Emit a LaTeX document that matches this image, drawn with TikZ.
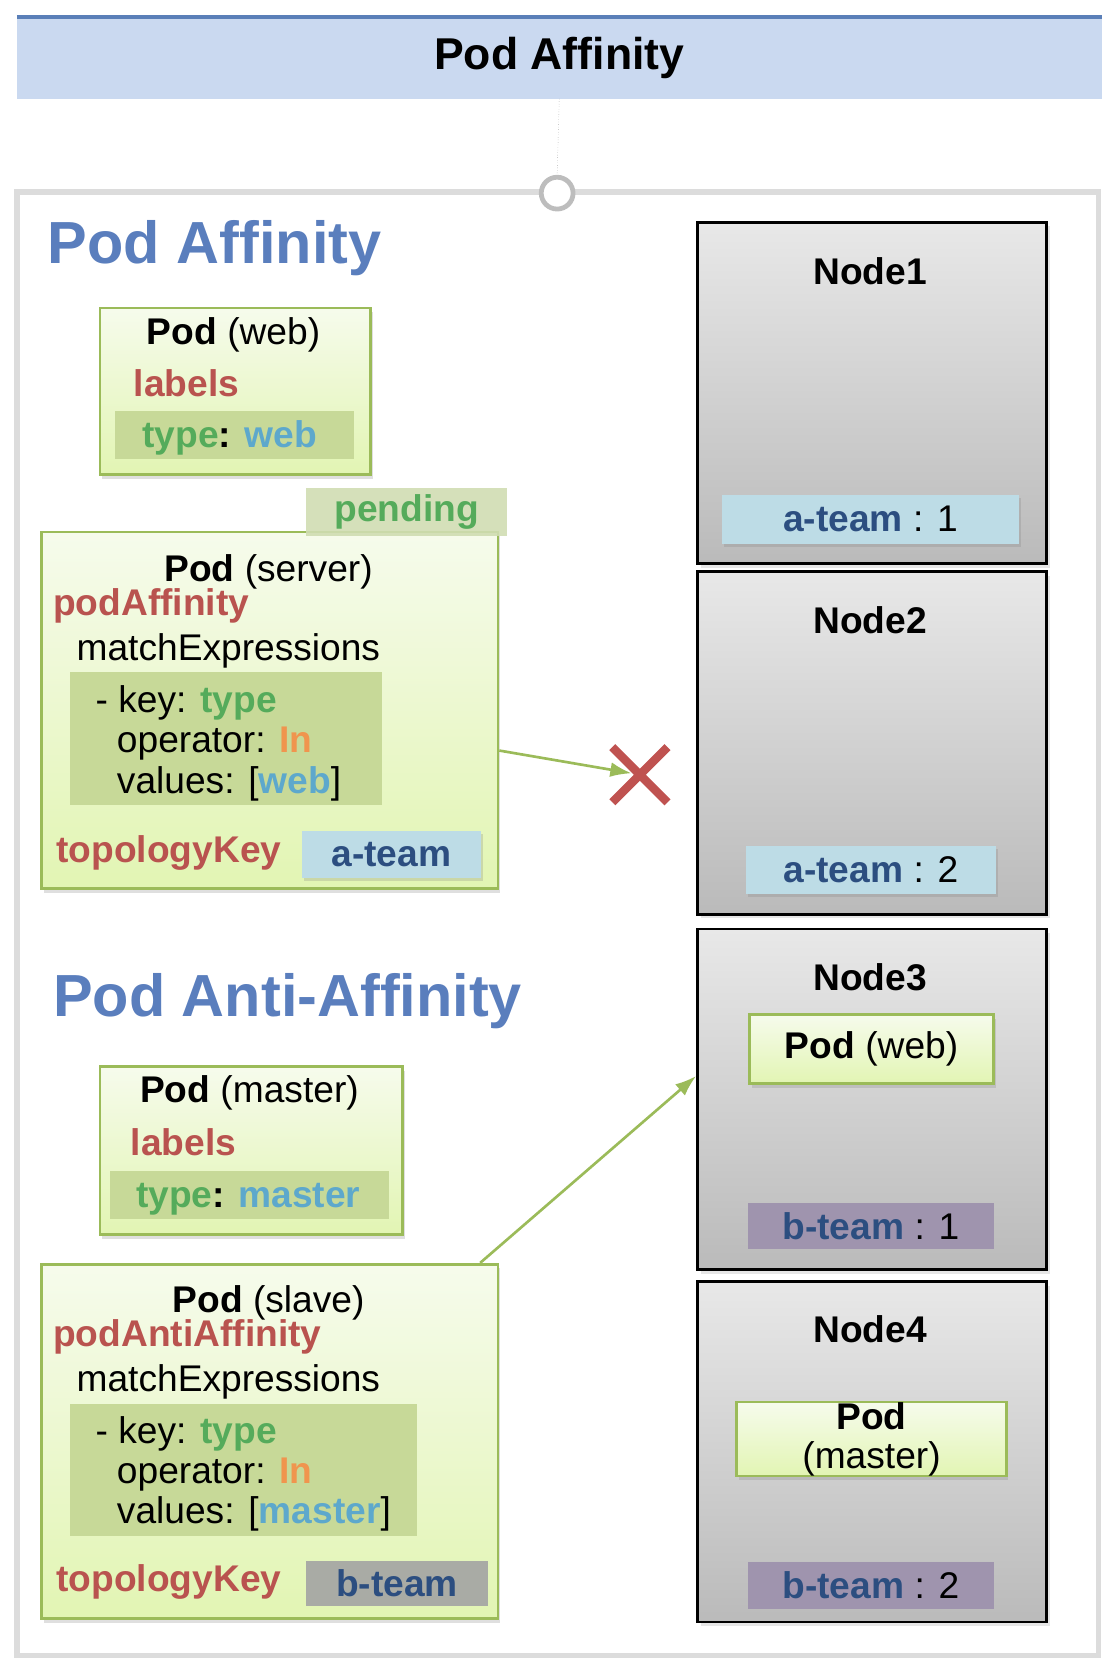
\documentclass[tikz,border=0pt]{standalone}
\usepackage{fontspec}
\setmainfont{Liberation Sans}
\usetikzlibrary{arrows.meta,calc,shadows,shapes.misc}
\definecolor{podgreen}{HTML}{9BBB59}
\definecolor{podtop}{HTML}{F6FBEC}
\definecolor{podbot}{HTML}{E2F5B3}
\definecolor{bandgreen}{HTML}{C7D998}
\definecolor{kwred}{HTML}{B9534F}
\definecolor{keygreen}{HTML}{55AB5B}
\definecolor{valblue}{HTML}{5DA8CC}
\definecolor{oporange}{HTML}{F0954E}
\definecolor{headblue}{HTML}{5A7EBD}
\definecolor{teamblue}{HTML}{2C4E80}
\definecolor{tagblue}{HTML}{BDDCE6}
\definecolor{tagpurple}{HTML}{9F94AE}
\definecolor{taggray}{HTML}{A9ABA5}
\definecolor{tagpend}{HTML}{D0DDB2}
\definecolor{barfill}{HTML}{CAD9F0}
\definecolor{barline}{HTML}{5A7FB8}
\definecolor{crossred}{HTML}{BF5250}
\definecolor{framegray}{HTML}{DCDCDC}
\definecolor{hubgray}{HTML}{BDBDBD}
\def\redkw#1{\textcolor{kwred}{\bfseries #1}}
\def\grnkw#1{\textcolor{keygreen}{\bfseries #1}}
\def\bluval#1{\textcolor{valblue}{\bfseries #1}}
\def\orgop#1{\textcolor{oporange}{\bfseries #1}}
\def\teamtxt#1{\textcolor{teamblue}{\bfseries #1}}
\tikzset{
  podtext/.style={inner sep=0pt, font=\fontsize{35}{38}\selectfont},
  heading/.style={inner sep=0pt, text=headblue, font=\fontsize{56}{60}\selectfont\bfseries},
  podbox/.style={draw=podgreen, line width=2.5pt, top color=podtop, bottom color=podbot,
    anchor=north west, drop shadow={opacity=0.25, shadow xshift=2pt, shadow yshift=-4pt}},
  nodebox/.style={draw=black, line width=2.8pt, top color=black!9, bottom color=black!27,
    anchor=north west, drop shadow={opacity=0.2, shadow xshift=3pt, shadow yshift=-4pt}},
  band/.style={fill=bandgreen, anchor=north west, inner sep=0pt},
  tagbox/.style={anchor=north west, inner sep=0pt, font=\fontsize{35}{38}\selectfont},
  link/.style={draw=podgreen, line width=2.5pt, -{Latex[length=20pt, width=14pt]}}
}

\begin{document}
\begin{tikzpicture}[x=1pt, y=-1pt]
  %%%%% START %%%%%
  \useasboundingbox (0,0) rectangle (1050,1568);

  % title bar
  \node[fill=barfill, minimum width=1022pt, minimum height=77pt, inner sep=0pt,
    font=\fontsize{42}{46}\selectfont\bfseries] (title) at (527,54.5) {Pod Affinity};
  \draw[line width=3.5pt, barline] (title.north west) -- (title.north east);

  % frame
  \draw[line width=5pt, framegray] (16,181) rectangle (1035,1560);
  \node[circle, draw=hubgray, line width=4.5pt, fill=white, minimum size=30pt, inner sep=0pt] (hub) at (525,182) {};
  \draw[dotted, black!50] (title.south) -- (hub.north);

  \node[heading, anchor=base west] (affhead) at (45,248) {Pod Affinity};
  \node[heading, anchor=base west] (antihead) at (50,958) {Pod Anti-Affinity};

  % pod web
  \node[podbox, minimum width=255pt, minimum height=157pt] (webpod) at (93,289) {};
  \node[podtext, anchor=base] (webname) at (220,325) {\textbf{Pod} (web)};
  \node[podtext, anchor=base west] (weblabels) at (126,374) {\redkw{labels}};
  \node[band, minimum width=225pt, minimum height=45pt] (webband) at (108,387) {};
  \node[podtext, anchor=base west] (webtype) at (134,422) {\grnkw{type}\textbf{:} \bluval{web}};

  % pod server
  \node[podbox, minimum width=430pt, minimum height=336pt] (server) at (38,500) {};
  \node[tagbox, fill=tagpend, fill opacity=0.9, text opacity=1, minimum width=190pt, minimum height=45pt] (pending) at (288,460) {\grnkw{pending}};
  \node[podtext, anchor=base] (srvname) at (253,548) {\textbf{Pod} (server)};
  \node[podtext, anchor=base west] (srvaff) at (50,580) {\redkw{podAffinity}};
  \node[podtext, anchor=base west] (srvmatch) at (72,622) {matchExpressions};
  \node[band, minimum width=294pt, minimum height=125pt] (srvband) at (66,633) {};
  \node[podtext, anchor=base west] (srvkey) at (90,671) {- key: \grnkw{type}};
  \node[podtext, anchor=base west] (srvop) at (110,709) {operator: \orgop{In}};
  \node[podtext, anchor=base west] (srvval) at (110,748) {values: [\bluval{web}]};
  \node[podtext, anchor=base west] (srvtopo) at (53,813) {\redkw{topologyKey}};
  \node[tagbox, fill=tagblue, minimum width=169pt, minimum height=44pt,
    drop shadow={opacity=0.25, shadow xshift=2pt, shadow yshift=-3pt}] (srvteam) at (284,783) {\teamtxt{a-team}};

  % pod master
  \node[podbox, minimum width=285pt, minimum height=158pt] (master) at (93,1004) {};
  \node[podtext, anchor=base] (mstname) at (235,1039) {\textbf{Pod} (master)};
  \node[podtext, anchor=base west] (mstlabels) at (123,1089) {\redkw{labels}};
  \node[band, minimum width=263pt, minimum height=45pt] (mstband) at (103,1103) {};
  \node[podtext, anchor=base west] (msttype) at (128,1138) {\grnkw{type}\textbf{:} \bluval{master}};

  % pod slave
  \node[podbox, minimum width=430pt, minimum height=334pt] (slave) at (38,1190) {};
  \node[podtext, anchor=base] (slvname) at (253,1237) {\textbf{Pod} (slave)};
  \node[podtext, anchor=base west] (slvanti) at (50,1269) {\redkw{podAntiAffinity}};
  \node[podtext, anchor=base west] (slvmatch) at (72,1311) {matchExpressions};
  \node[band, minimum width=327pt, minimum height=124pt] (slvband) at (66,1323) {};
  \node[podtext, anchor=base west] (slvkey) at (90,1360) {- key: \grnkw{type}};
  \node[podtext, anchor=base west] (slvop) at (110,1398) {operator: \orgop{In}};
  \node[podtext, anchor=base west] (slvval) at (110,1436) {values: [\bluval{master}]};
  \node[podtext, anchor=base west] (slvtopo) at (53,1500) {\redkw{topologyKey}};
  \node[tagbox, fill=taggray, minimum width=172pt, minimum height=42pt] (slvteam) at (288,1471) {\teamtxt{b-team}};

  % nodes
  \node[nodebox, minimum width=329pt, minimum height=322pt] (node1) at (656,208) {};
  \node[podtext, anchor=base] (n1name) at (820,268) {\textbf{Node1}};
  \node[tagbox, fill=tagblue, minimum width=280pt, minimum height=46pt,
    drop shadow={opacity=0.25, shadow xshift=2pt, shadow yshift=-3pt}] (n1team) at (680,466) {\teamtxt{a-team} : 1};

  \node[nodebox, minimum width=329pt, minimum height=323pt] (node2) at (656,537) {};
  \node[podtext, anchor=base] (n2name) at (820,597) {\textbf{Node2}};
  \node[tagbox, fill=tagblue, minimum width=235pt, minimum height=45pt,
    drop shadow={opacity=0.25, shadow xshift=2pt, shadow yshift=-3pt}] (n2team) at (703,797) {\teamtxt{a-team} : 2};

  \node[nodebox, minimum width=329pt, minimum height=321pt] (node3) at (656,874) {};
  \node[podtext, anchor=base] (n3name) at (820,933) {\textbf{Node3}};
  \node[podbox, minimum width=230pt, minimum height=65pt, font=\fontsize{35}{38}\selectfont] (n3pod) at (705,955) {\textbf{Pod} (web)};
  \node[tagbox, fill=tagpurple, minimum width=231pt, minimum height=44pt] (n3team) at (705,1133) {\teamtxt{b-team} : 1};

  \node[nodebox, minimum width=329pt, minimum height=321pt] (node4) at (656,1206) {};
  \node[podtext, anchor=base] (n4name) at (820,1265) {\textbf{Node4}};
  \node[podbox, minimum width=254pt, minimum height=66pt, inner sep=0pt, align=center,
    font=\fontsize{35}{37}\selectfont] (n4pod) at (693,1320) {\textbf{Pod}\\(master)};
  \node[tagbox, fill=tagpurple, minimum width=231pt, minimum height=44pt] (n4team) at (705,1472) {\teamtxt{b-team} : 2};

  % links
  \node[cross out, draw=crossred, line width=8pt, minimum size=44pt, inner sep=0pt] (deny) at (603,730) {};
  \draw[link, shorten >=8pt] ($(server.east)+(0,38)$) -- (deny.center);
  \draw[link] ($(slave.north east)+(-18,0)$) -- ($(node3.west)+(0,-22)$);

  %%%%% END %%%%%
\end{tikzpicture}
\end{document}
